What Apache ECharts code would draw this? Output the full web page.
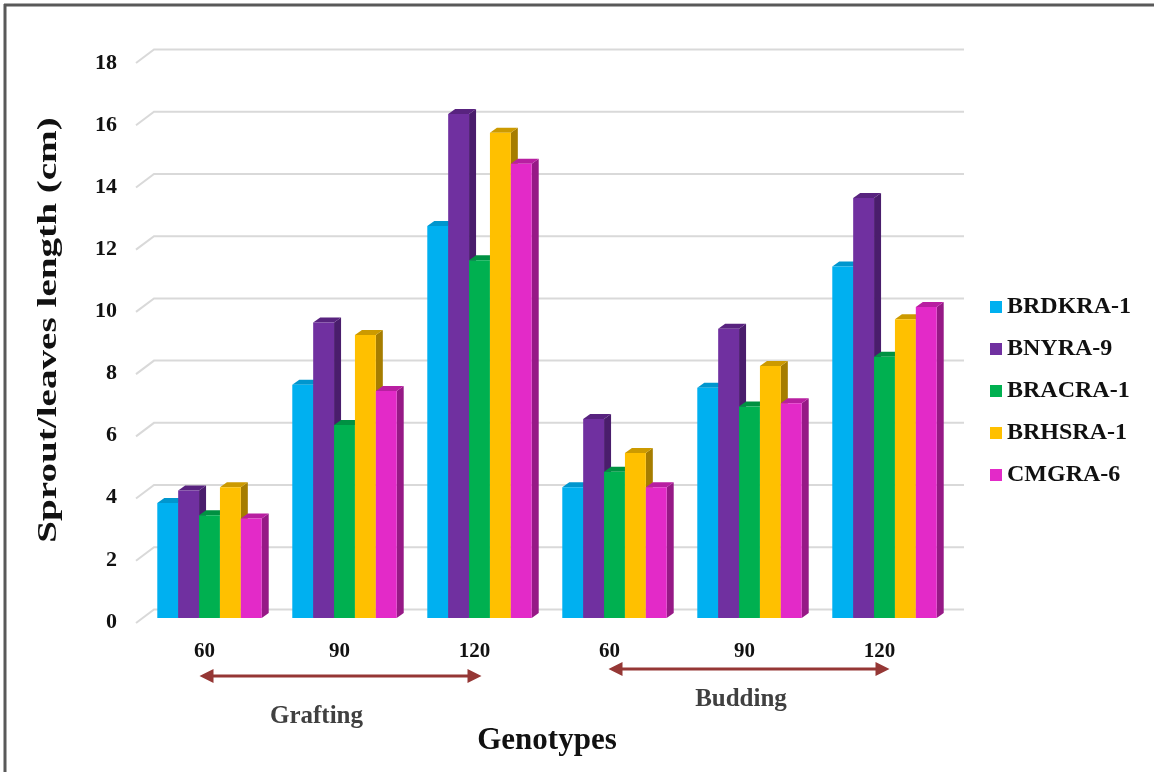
<!DOCTYPE html>
<html>
<head>
<meta charset="utf-8">
<script src="https://cdn.jsdelivr.net/npm/echarts@6/dist/echarts.min.js"></script>
<style>
  html, body { margin: 0; padding: 0; background: #fff; }
  #chart { width: 1154px; height: 772px; }
</style>
</head>
<body>
<div id="chart"></div>
<script>
// Days after propagation, per method
const categories = ['60', '90', '120', '60', '90', '120'];
const methods = ['Grafting', 'Budding'];
const genotypes = ['BRDKRA-1', 'BNYRA-9', 'BRACRA-1', 'BRHSRA-1', 'CMGRA-6'];

// Sprout/leaves length (cm) per genotype
const BRDKRA1 = [3.7, 7.5, 12.6, 4.2, 7.4, 11.3];
const BNYRA9  = [4.1, 9.5, 16.2, 6.4, 9.3, 13.5];
const BRACRA1 = [3.3, 6.2, 11.5, 4.7, 6.8, 8.4];
const BRHSRA1 = [4.2, 9.1, 15.6, 5.3, 8.1, 9.6];
const CMGRA6  = [3.2, 7.3, 14.6, 4.2, 6.9, 10.0];
const seriesValues = [BRDKRA1, BNYRA9, BRACRA1, BRHSRA1, CMGRA6];

const yTicks = [0, 2, 4, 6, 8, 10, 12, 14, 16, 18];

// face colours: front, right side, top
const palette = [
  { front: '#00B0F0', side: '#0082B4', top: '#0096CE' },
  { front: '#7030A0', side: '#4A1D6C', top: '#58237F' },
  { front: '#00B050', side: '#007A37', top: '#009142' },
  { front: '#FFC000', side: '#A67D00', top: '#CC9A00' },
  { front: '#E32AC8', side: '#961986', top: '#B81FA1' }
];

const FONT = '"Liberation Serif", "Times New Roman", serif';
const DEPTH_X = 7, DEPTH_Y = 5;

const chart = echarts.init(document.getElementById('chart'), null, { renderer: 'canvas' });

function barRenderer(i) {
  return function (params, api) {
    const cat = api.value(0);
    const v = api.value(1);
    const base = api.coord([cat, 0]);
    const top = api.coord([cat, v]);
    const band = api.size([1, 0])[0];
    const w = band * 0.1547;
    const x = base[0] - 2.5 * w + i * w;
    const y0 = base[1], y1 = top[1];
    const c = palette[i];
    return {
      type: 'group',
      children: [
        { type: 'polygon', shape: { points: [[x + w, y1], [x + w + DEPTH_X, y1 - DEPTH_Y], [x + w + DEPTH_X, y0 - DEPTH_Y], [x + w, y0]] }, style: { fill: c.side } },
        { type: 'polygon', shape: { points: [[x, y1], [x + DEPTH_X, y1 - DEPTH_Y], [x + w + DEPTH_X, y1 - DEPTH_Y], [x + w, y1]] }, style: { fill: c.top } },
        { type: 'rect', shape: { x: x, y: y1, width: w, height: y0 - y1 }, style: { fill: c.front } }
      ]
    };
  };
}

// back-wall gridlines with their slanted floor edge
function gridRenderer(params, api) {
  const cs = params.coordSys;
  const y = api.coord([0, api.value(1)])[1];
  return {
    type: 'polyline',
    shape: { points: [[cs.x - 6, y + 5], [cs.x + 12, y - 8.5], [cs.x + cs.width + 12, y - 8.5]] },
    style: { stroke: '#d9d9d9', lineWidth: 2, fill: null }
  };
}

const series = [{
  type: 'custom',
  name: 'grid',
  renderItem: gridRenderer,
  data: yTicks.map(t => [0, t]),
  z: 1,
  silent: true
}];

genotypes.forEach((g, i) => {
  series.push({
    type: 'custom',
    name: g,
    renderItem: barRenderer(i),
    itemStyle: { color: palette[i].front },
    data: seriesValues[i].map((v, k) => [k, v]),
    z: 2
  });
});

const tickFont = { fontFamily: FONT, fontWeight: 'bold', color: '#111' };

chart.setOption({
  animation: false,
  backgroundColor: '#fff',
  grid: [
    { left: 142, right: 202, top: 58, bottom: 154 },
    // front plane of the floor, a few pixels lower: carries the value labels
    { left: 142, right: 202, top: 63, bottom: 150 }
  ],
  legend: {
    data: genotypes,
    orient: 'vertical',
    left: 985,
    top: 290,
    icon: 'rect',
    itemWidth: 12,
    itemHeight: 12,
    itemGap: 18,
    textStyle: { fontFamily: FONT, fontWeight: 'bold', fontSize: 24, color: '#111' }
  },
  xAxis: [{
    type: 'category',
    data: categories,
    name: 'Genotypes',
    nameLocation: 'middle',
    nameGap: 107,
    nameTextStyle: { fontFamily: FONT, fontWeight: 'bold', fontSize: 31, color: '#111' },
    axisLine: { show: false },
    axisTick: { show: false },
    splitLine: { show: false },
    axisLabel: Object.assign({ margin: 23, padding: [0, 10, 0, 0], fontSize: 21 }, tickFont)
  }, {
    type: 'category',
    gridIndex: 1,
    data: categories,
    show: false
  }],
  yAxis: [{
    type: 'value',
    min: 0,
    max: 18,
    interval: 2,
    axisLine: { show: false },
    axisTick: { show: false },
    splitLine: { show: false },
    axisLabel: { show: false }
  }, {
    type: 'value',
    gridIndex: 1,
    min: 0,
    max: 18,
    interval: 2,
    axisLine: { show: false },
    axisTick: { show: false },
    splitLine: { show: false },
    axisLabel: Object.assign({ margin: 25, fontSize: 22 }, tickFont)
  }],
  series: series
});

// method brackets under the category labels
function px(idx) { return chart.convertToPixel({ xAxisIndex: 0 }, idx); }
const ARROW = '#953735';
function arrow(x1, x2, y) {
  const h = 14, half = 7;
  return [
    { type: 'line', shape: { x1: x1 + h - 2, y1: y, x2: x2 - h + 2, y2: y }, style: { stroke: ARROW, lineWidth: 3 } },
    { type: 'polygon', shape: { points: [[x1, y], [x1 + h, y - half], [x1 + h, y + half]] }, style: { fill: ARROW } },
    { type: 'polygon', shape: { points: [[x2, y], [x2 - h, y - half], [x2 - h, y + half]] }, style: { fill: ARROW } }
  ];
}
const gX1 = px(0) - 10, gX2 = px(2) + 2;
const bX1 = px(3) - 6, bX2 = px(5) + 5;
const methodText = { fontFamily: FONT, fontWeight: 'bold', fontSize: 25, fill: '#404040', textAlign: 'center', textVerticalAlign: 'middle' };

chart.setOption({
  graphic: [
    // frame
    { type: 'line', shape: { x1: 4, y1: 5, x2: 1154, y2: 5 }, style: { stroke: '#595959', lineWidth: 3 } },
    { type: 'line', shape: { x1: 5, y1: 4, x2: 5, y2: 772 }, style: { stroke: '#595959', lineWidth: 3 } },
    // value-axis title, stretched along its length
    {
      type: 'text', x: 49, y: 330, rotation: Math.PI / 2, scaleX: 1.45, scaleY: 1,
      style: { text: 'Sprout/leaves length (cm)', fontFamily: FONT, fontWeight: 'bold', fontSize: 27, fill: '#111', textAlign: 'center', textVerticalAlign: 'middle' }
    },
    ...arrow(gX1, gX2, 676),
    ...arrow(bX1, bX2, 669),
    { type: 'text', x: (gX1 + gX2) / 2 - 24, y: 717, style: Object.assign({ text: methods[0] }, methodText) },
    { type: 'text', x: (bX1 + bX2) / 2 - 8, y: 700, style: Object.assign({ text: methods[1] }, methodText) }
  ]
});
</script>
</body>
</html>
